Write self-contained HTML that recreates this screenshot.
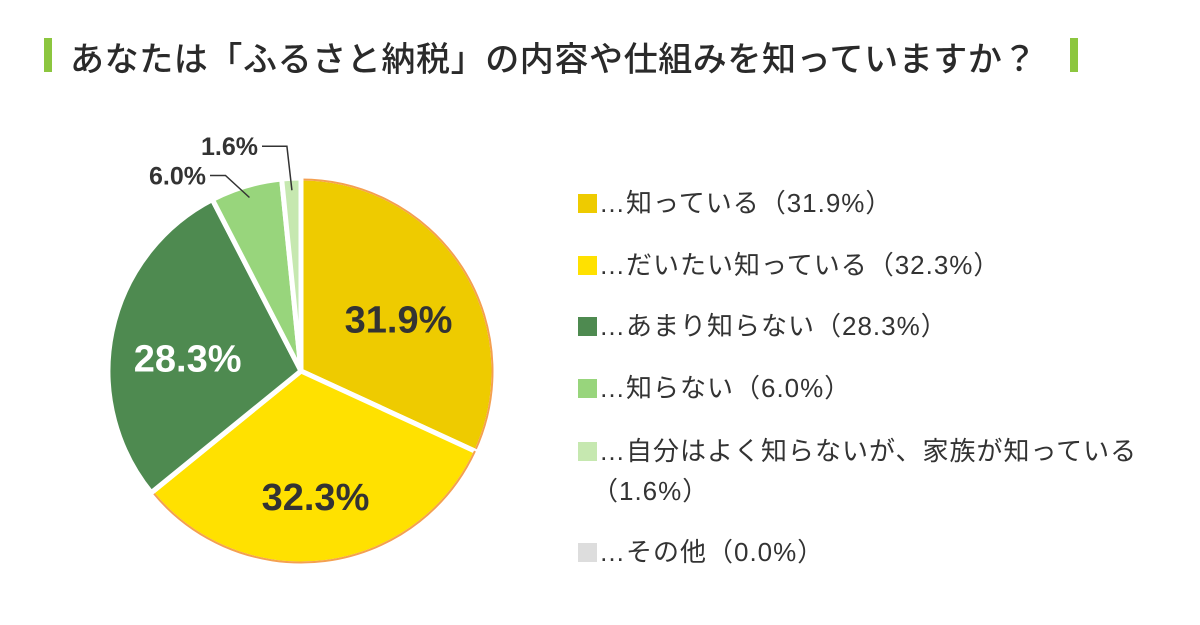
<!DOCTYPE html>
<html><head><meta charset="utf-8"><style>
body{margin:0;width:1200px;height:625px;background:#fff;font-family:"Liberation Sans","Noto Sans CJK JP",sans-serif;overflow:hidden;position:relative;color:#333}
.bar{position:absolute;background:#8cc63f;width:8px;height:34px;top:38px}
#title{position:absolute;left:70px;top:32px;font-size:34px;color:#2a2a2a;white-space:nowrap;letter-spacing:0.6px;font-weight:500}
.leg{position:absolute;left:578px;font-size:26px;color:#333;white-space:nowrap;letter-spacing:1px;line-height:30px}
.leg span.sw{display:inline-block;width:19px;height:19px;vertical-align:-1px;margin-right:2px}
</style></head><body>
<div class="bar" style="left:44px"></div>
<div id="title">あなたは「ふるさと納税」の内容や仕組みを知っていますか？</div>
<div class="bar" style="left:1070px"></div>
<svg id="pie" width="1200" height="625" style="position:absolute;left:0;top:0"></svg>
<div id="legend"></div>
<script>
const categories=["知っている","だいたい知っている","あまり知らない","知らない","自分はよく知らないが、家族が知っている","その他"];
const values=[31.9,32.3,28.3,6.0,1.6,0.0];
const labels=["31.9%","32.3%","28.3%","6.0%","1.6%","0.0%"];
const colors=["#eecb00","#ffe100","#4e8a50","#98d57c","#c6e8b0","#dddddd"];
const svg=document.getElementById('pie');
const NS='http://www.w3.org/2000/svg';
const cx=301,cy=371,r=193;
const total=values.reduce((a,b)=>a+b,0);
function pt(a,rr){return [cx+rr*Math.sin(a),cy-rr*Math.cos(a)];}
let acc=0;
values.forEach((v,i)=>{
  if(v<=0)return;
  const a0=acc/total*2*Math.PI;acc+=v;const a1=acc/total*2*Math.PI;
  const p0=pt(a0,r),p1=pt(a1,r);const large=(a1-a0)>Math.PI?1:0;
  const p=document.createElementNS(NS,'path');
  p.setAttribute('d',`M${cx},${cy}L${p0[0]},${p0[1]}A${r},${r} 0 ${large} 1 ${p1[0]},${p1[1]}Z`);
  p.setAttribute('fill',colors[i]);p.setAttribute('stroke','#fff');p.setAttribute('stroke-width','5');
  p.setAttribute('stroke-linejoin','round');
  
  
  svg.appendChild(p);
  if(i<2){
    const o=document.createElementNS(NS,'path');
    const q0=pt(a0,r-1.5),q1=pt(a1,r-1.5);
    o.setAttribute('d',`M${q0[0]},${q0[1]}A${r-1.5},${r-1.5} 0 ${large} 1 ${q1[0]},${q1[1]}`);
    o.setAttribute('fill','none');o.setAttribute('stroke','#f4a050');o.setAttribute('stroke-width','2');
    
    
    svg.appendChild(o);
  }
  const mid=(a0+a1)/2;
  if(v>10){
    const c=pt(mid,r*0.6);
    const t=document.createElementNS(NS,'text');
    t.setAttribute('x',c[0]);t.setAttribute('y',c[1]+24);
    t.setAttribute('text-anchor','middle');t.setAttribute('font-size','38');t.setAttribute('font-weight','bold');
    t.setAttribute('fill',i==2?'#fff':'#333');
    t.textContent=labels[i];
    
    
    svg.appendChild(t);
  }else{
    const e=pt(mid,r-12);
    const ex=i==3?[e[0]-24,e[1]-22]:[e[0]-5,e[1]-44];
    const lx=i==3?210:262;
    const l=document.createElementNS(NS,'polyline');
    l.setAttribute('points',`${e[0]},${e[1]} ${ex[0]},${ex[1]} ${lx},${ex[1]}`);
    l.setAttribute('fill','none');l.setAttribute('stroke','#333');l.setAttribute('stroke-width','1.5');
    
    
    svg.appendChild(l);
    const t=document.createElementNS(NS,'text');
    t.setAttribute('x',lx-4);t.setAttribute('y',ex[1]+9);
    t.setAttribute('text-anchor','end');t.setAttribute('font-size','25');t.setAttribute('font-weight','bold');t.setAttribute('fill','#333');
    t.textContent=labels[i];
    
    
    svg.appendChild(t);
  }
});
const tops=[188,250,311,373,436,537];
const leg=document.getElementById('legend');
categories.forEach((c,i)=>{
  const d=document.createElement('div');d.className='leg';d.style.top=tops[i]+'px';
  
  
  if(i==4){d.innerHTML=`<span class="sw" style="background:${colors[i]}"></span>…${c}<br><span style="display:inline-block;margin-top:10px;margin-left:14px">（${values[i].toFixed(1)}%）</span>`;}
  else d.innerHTML=`<span class="sw" style="background:${colors[i]}"></span>…${c}（${values[i].toFixed(1)}%）`;
  leg.appendChild(d);
});
</script>
</body></html>
